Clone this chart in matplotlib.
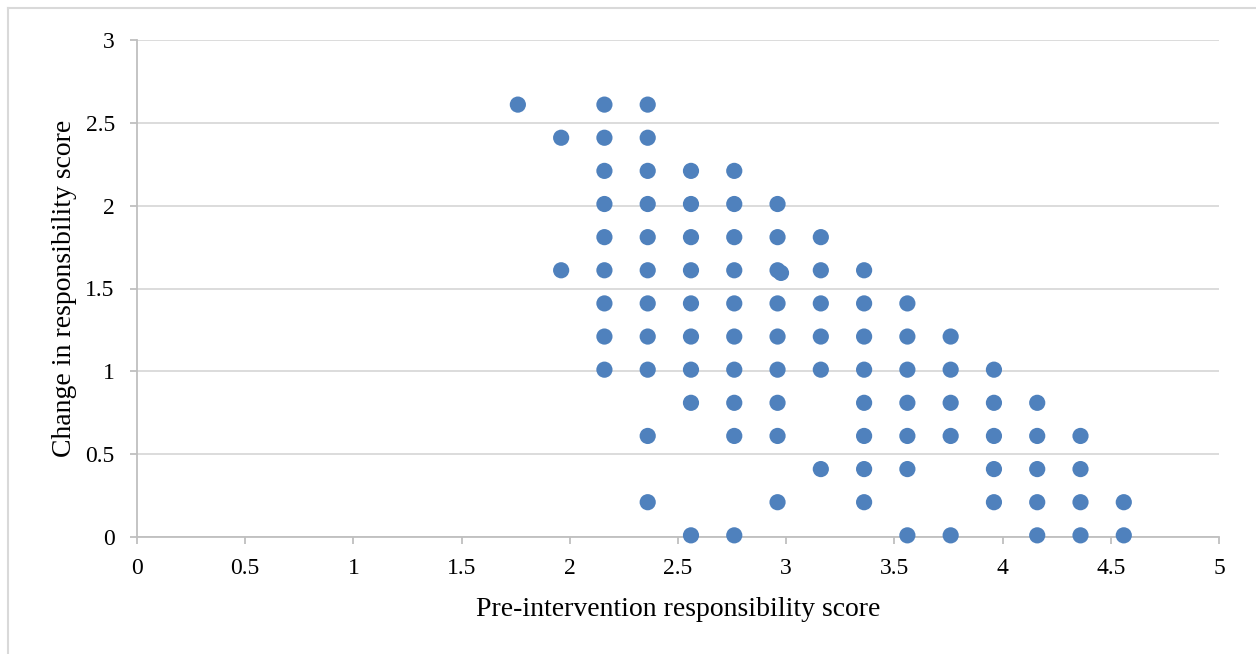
import matplotlib
matplotlib.use("Agg")
import matplotlib.pyplot as plt
from matplotlib.lines import Line2D

# Pre-intervention score (x) and change in score (y), listed row by row
pre_score = [
    1.76, 2.16, 2.36,
    1.96, 2.16, 2.36,
    2.16, 2.36, 2.56, 2.76,
    2.16, 2.36, 2.56, 2.76, 2.96,
    2.16, 2.36, 2.56, 2.76, 2.96, 3.16,
    1.96, 2.16, 2.36, 2.56, 2.76, 2.96, 2.976, 3.16, 3.36,
    2.16, 2.36, 2.56, 2.76, 2.96, 3.16, 3.36, 3.56,
    2.16, 2.36, 2.56, 2.76, 2.96, 3.16, 3.36, 3.56, 3.76,
    2.16, 2.36, 2.56, 2.76, 2.96, 3.16, 3.36, 3.56, 3.76, 3.96,
    2.56, 2.76, 2.96, 3.36, 3.56, 3.76, 3.96, 4.16,
    2.36, 2.76, 2.96, 3.36, 3.56, 3.76, 3.96, 4.16, 4.36,
    3.16, 3.36, 3.56, 3.96, 4.16, 4.36,
    2.36, 2.96, 3.36, 3.96, 4.16, 4.36, 4.56,
    2.56, 2.76, 3.56, 3.76, 4.16, 4.36, 4.56,
]
change = [
    2.61, 2.61, 2.61,
    2.41, 2.41, 2.41,
    2.21, 2.21, 2.21, 2.21,
    2.01, 2.01, 2.01, 2.01, 2.01,
    1.81, 1.81, 1.81, 1.81, 1.81, 1.81,
    1.61, 1.61, 1.61, 1.61, 1.61, 1.61, 1.594, 1.61, 1.61,
    1.41, 1.41, 1.41, 1.41, 1.41, 1.41, 1.41, 1.41,
    1.21, 1.21, 1.21, 1.21, 1.21, 1.21, 1.21, 1.21, 1.21,
    1.01, 1.01, 1.01, 1.01, 1.01, 1.01, 1.01, 1.01, 1.01, 1.01,
    0.81, 0.81, 0.81, 0.81, 0.81, 0.81, 0.81, 0.81,
    0.61, 0.61, 0.61, 0.61, 0.61, 0.61, 0.61, 0.61, 0.61,
    0.41, 0.41, 0.41, 0.41, 0.41, 0.41,
    0.21, 0.21, 0.21, 0.21, 0.21, 0.21, 0.21,
    0.01, 0.01, 0.01, 0.01, 0.01, 0.01, 0.01,
]

x_ticks = [0, 0.5, 1, 1.5, 2, 2.5, 3, 3.5, 4, 4.5, 5]
x_tick_labels = ["0", "0.5", "1", "1.5", "2", "2.5", "3", "3.5", "4", "4.5", "5"]
y_ticks = [0, 0.5, 1, 1.5, 2, 2.5, 3]
y_tick_labels = ["0", "0.5", "1", "1.5", "2", "2.5", "3"]

plt.rcParams["font.family"] = ["Liberation Serif", "DejaVu Serif"]

W, H = 1256, 654
fig = plt.figure(figsize=(W / 100, H / 100), dpi=100)
ax = fig.add_axes([137 / W, 1 - 537 / H, (1219 - 137) / W, (537 - 40) / H])

ax.scatter(pre_score, change, s=136, color="#4F81BD", edgecolors="none",
           zorder=3, clip_on=False)

ax.set_xlim(0, 5)
ax.set_ylim(0, 3)
ax.set_xticks(x_ticks)
ax.set_xticklabels(x_tick_labels)
ax.set_yticks(y_ticks)
ax.set_yticklabels(y_tick_labels)

ax.yaxis.grid(True, color="#D9D9D9", linewidth=1.3, zorder=0)
ax.set_axisbelow(True)
for side in ("top", "right"):
    ax.spines[side].set_visible(False)
for side in ("left", "bottom"):
    ax.spines[side].set_color("#BFBFBF")
    ax.spines[side].set_linewidth(1.3)
ax.tick_params(axis="both", direction="out", length=5, width=1.3,
               color="#BFBFBF", labelsize=17, labelcolor="#000000")
ax.tick_params(axis="x", pad=10)
ax.tick_params(axis="y", pad=11)

ax.set_xlabel("Pre-intervention responsibility score", fontsize=20, labelpad=13)
ax.set_ylabel("Change in responsibility score", fontsize=20, labelpad=6)

# Outer frame lines along the top and left edges of the figure
fig.add_artist(Line2D([8 / W, 1], [1 - 8 / H, 1 - 8 / H], color="#D9D9D9",
                      linewidth=1.5, transform=fig.transFigure))
fig.add_artist(Line2D([8 / W, 8 / W], [0, 1 - 8 / H], color="#D9D9D9",
                      linewidth=1.5, transform=fig.transFigure))

fig.savefig("out.png", dpi=100)
